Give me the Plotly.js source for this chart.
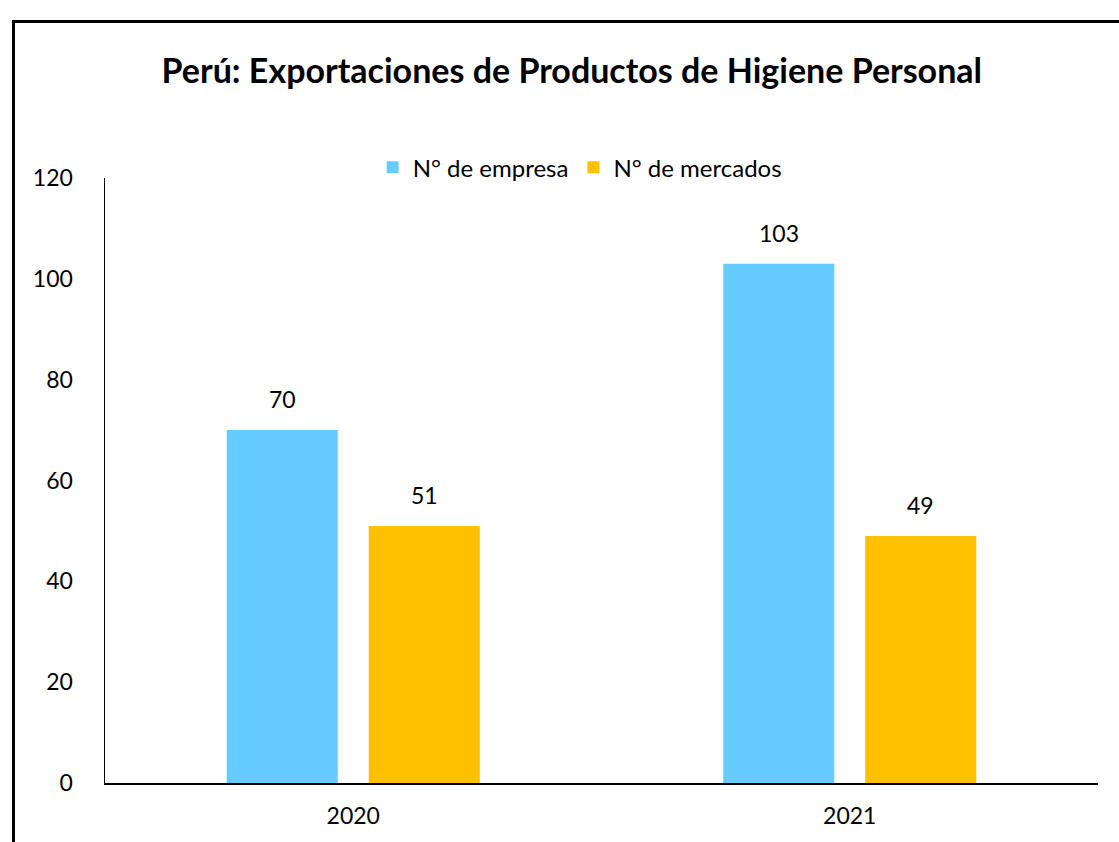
<!DOCTYPE html>
<html>
<head>
<meta charset="utf-8">
<script src="https://cdn.plot.ly/plotly-3.0.1.min.js"></script>
<style>
html,body{margin:0;padding:0;background:#fff;overflow:hidden;}
#frame{position:absolute;left:12px;top:20px;width:1200px;height:900px;border-left:3px solid #000;border-top:3px solid #000;box-sizing:border-box;pointer-events:none;z-index:5;}
#chart{position:absolute;left:0;top:0;width:1119px;height:842px;}
</style>
</head>
<body>
<div id="chart"></div>
<div id="frame"></div>
<script>
const years = ["2020", "2021"];
const empresas = [70, 103];
const mercados = [51, 49];
const seriesNames = ["N° de empresa", "N° de mercados"];
const colors = ["#66CCFF", "#FFC000"];
const yTicks = [0, 20, 40, 60, 80, 100, 120];

const FONT = "Lato, Calibri, 'Open Sans', sans-serif";

const traces = [
  {type: "bar", name: seriesNames[0], x: years, y: empresas, marker: {color: colors[0]}, hoverinfo: "none"},
  {type: "bar", name: seriesNames[1], x: years, y: mercados, marker: {color: colors[1]}, hoverinfo: "none"}
];

const annotations = [];
[empresas, mercados].forEach((vals, si) => {
  vals.forEach((v, i) => {
    annotations.push({
      x: i, y: v, xref: "x", yref: "y",
      text: String(v), showarrow: false,
      xshift: si === 0 ? -71 : 71, yshift: 31,
      font: {family: FONT, size: 23, color: "#000"}
    });
  });
});

const layout = {
  width: 1119, height: 842,
  margin: {l: 105, r: 21, t: 178, b: 59},
  paper_bgcolor: "#fff", plot_bgcolor: "#fff",
  font: {family: FONT, color: "#000", size: 23},
  title: {
    text: "<b>Perú: Exportaciones de Productos de Higiene Personal</b>",
    font: {family: FONT, size: 34, color: "#000"},
    x: 0.511, xanchor: "center", y: 0.915, yanchor: "middle"
  },
  barmode: "group",
  bargap: 0.428,
  bargroupgap: 0.218,
  showlegend: true,
  legend: {
    orientation: "h", x: 0.478, xanchor: "center", y: 1.017, yanchor: "middle",
    font: {family: FONT, size: 24, color: "#000"},
    traceorder: "normal", bgcolor: "rgba(0,0,0,0)"
  },
  xaxis: {
    type: "category",
    range: [-0.5, 1.5], autorange: false,
    showline: true, linecolor: "#000", linewidth: 1.5,
    showgrid: false, zeroline: false, ticks: "outside", ticklen: 12, tickcolor: "rgba(0,0,0,0)",
    tickfont: {family: FONT, size: 23, color: "#000"},
    fixedrange: true
  },
  yaxis: {
    range: [0, 120], autorange: false, tickvals: yTicks, ticktext: yTicks.map(String),
    showline: true, linecolor: "#000", linewidth: 1.5,
    showgrid: false, zeroline: false, ticks: "outside", ticklen: 26, tickcolor: "rgba(0,0,0,0)",
    tickfont: {family: FONT, size: 23, color: "#000"},
    fixedrange: true
  },
  annotations: annotations
};

Plotly.newPlot("chart", traces, layout, {staticPlot: true, displayModeBar: false});
</script>
</body>
</html>
